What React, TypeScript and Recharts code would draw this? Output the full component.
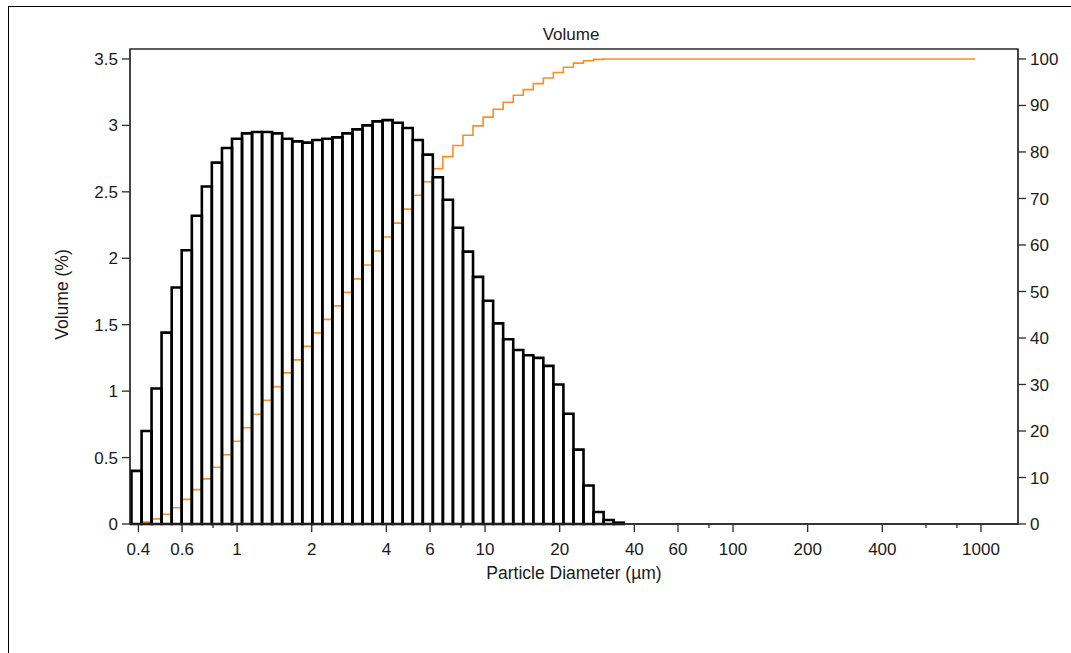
import React from 'react';
import { ComposedChart, Line, XAxis, YAxis, ReferenceArea } from 'recharts';

// Bin edges (µm) of the size channels shown
const EDGES = [0.375, 0.412, 0.452, 0.496, 0.545, 0.598, 0.657, 0.721, 0.791, 0.869, 0.954, 1.047, 1.149, 1.261, 1.385, 1.52, 1.669, 1.832, 2.011, 2.207, 2.423, 2.66, 2.92, 3.205, 3.519, 3.863, 4.24, 4.655, 5.11, 5.61, 6.158, 6.76, 7.421, 8.147, 8.943, 9.817, 10.78, 11.83, 12.99, 14.26, 15.65, 17.18, 18.86, 20.7, 22.73, 24.95, 27.39, 30.07, 33.01, 36.24];

// Volume % per bin (49 bins)
const VOLUME = [0.40, 0.70, 1.02, 1.44, 1.78, 2.06, 2.32, 2.54, 2.72, 2.83, 2.90, 2.94, 2.95, 2.95, 2.94, 2.90, 2.88, 2.87, 2.89, 2.90, 2.91, 2.94, 2.97, 3.00, 3.03, 3.04, 3.02, 2.98, 2.89, 2.78, 2.61, 2.44, 2.23, 2.05, 1.86, 1.68, 1.51, 1.39, 1.31, 1.27, 1.25, 1.19, 1.05, 0.83, 0.56, 0.29, 0.09, 0.03, 0.01];

// Cumulative volume % (undersize) at each bin edge
const CUM = [0, 0.4, 1.1, 2.1, 3.5, 5.3, 7.4, 9.7, 12.2, 14.9, 17.8, 20.7, 23.6, 26.6, 29.5, 32.5, 35.3, 38.2, 41.1, 44.0, 46.9, 49.8, 52.7, 55.7, 58.7, 61.7, 64.7, 67.7, 70.7, 73.6, 76.4, 79.0, 81.4, 83.6, 85.6, 87.5, 89.2, 90.7, 92.2, 93.4, 94.7, 95.9, 97.1, 98.2, 99.1, 99.6, 99.9, 100, 100, 100];
const CUM_END_X = 948.3;
const CUM_END = 100;

const X_DOMAIN = [0.37, 1410];
const Y_LEFT_DOMAIN = [0, 3.575];
const Y_RIGHT_DOMAIN = [0, 102.14];
const X_TICKS = [0.4, 0.6, 0.8, 1, 2, 4, 6, 8, 10, 20, 40, 60, 80, 100, 200, 400, 600, 800, 1000];
const X_LABELS = [0.4, 0.6, 1, 2, 4, 6, 10, 20, 40, 60, 100, 200, 400, 1000];
const Y_LEFT_TICKS = [0, 0.5, 1, 1.5, 2, 2.5, 3, 3.5];
const Y_RIGHT_TICKS = [0, 10, 20, 30, 40, 50, 60, 70, 80, 90, 100];

const FONT = '"Liberation Sans", Arial, sans-serif';
const TEXT = '#1a1a1a';
const AXIS = '#2a2a2a';
const ORANGE = '#ff8c1f';

const cumData = [
  ...EDGES.map((x, i) => ({ x, cum: CUM[i] })),
  { x: CUM_END_X, cum: CUM_END },
];

const XTick = (props: any) => {
  const { x, y, payload } = props;
  const v = payload.value;
  const major = X_LABELS.includes(v);
  return (
    <g>
      <line x1={x} x2={x} y1={y} y2={y + (major ? 8 : 4)} stroke={AXIS} strokeWidth={1.3} />
      {major && (
        <text x={x} y={y + 31} textAnchor="middle" fontSize={17} fill={TEXT} fontFamily={FONT}>
          {String(v)}
        </text>
      )}
    </g>
  );
};

const YLabel = (props: any) => {
  const vb = props.viewBox || {};
  const cx = vb.x + 62;
  const cy = vb.y + vb.height / 2 + 8;
  return (
    <text x={cx} y={cy} transform={`rotate(-90 ${cx} ${cy})`} textAnchor="middle" dominantBaseline="central" fontSize={17.5} fill={TEXT} fontFamily={FONT}>
      Volume (%)
    </text>
  );
};

const XLabel = (props: any) => {
  const vb = props.viewBox || {};
  const cx = vb.x + vb.width / 2;
  return (
    <text x={cx} y={vb.y + 55} textAnchor="middle" fontSize={17.5} fill={TEXT} fontFamily={FONT}>
      Particle Diameter (µm)
    </text>
  );
};

const TitleLabel = (props: any) => {
  const vb = props.viewBox || {};
  const cx = vb.x + vb.width / 2 - 3;
  return (
    <text x={cx} y={vb.y - 9} textAnchor="middle" fontSize={17} fill={TEXT} fontFamily={FONT}>
      Volume
    </text>
  );
};

export default function App() {
  return (
    <>
      <div
        style={{
          position: 'fixed',
          left: 8,
          top: 6,
          width: 1063,
          height: 647,
          borderLeft: '1px solid #000',
          borderTop: '1px solid #000',
          background: '#fff',
        }}
      />
      <div style={{ position: 'fixed', left: 0, top: 0 }}>
        <ComposedChart
          width={1071}
          height={653}
          data={cumData}
          margin={{ top: 49, right: 0, bottom: 89, left: 0 }}
        >
          <XAxis
            xAxisId="main"
            dataKey="x"
            type="number"
            scale="log"
            domain={X_DOMAIN}
            allowDataOverflow
            ticks={X_TICKS}
            interval={0}
            tick={(p: any) => <XTick {...p} />}
            tickLine={false}
            tickSize={0}
            tickMargin={0}
            height={40}
            axisLine={{ stroke: AXIS, strokeWidth: 1.3 }}
            label={<XLabel />}
          />
          <YAxis
            yAxisId="left"
            type="number"
            domain={Y_LEFT_DOMAIN}
            allowDataOverflow
            ticks={Y_LEFT_TICKS}
            interval={0}
            width={130}
            tickSize={8}
            tickMargin={4}
            tick={{ fontSize: 17, fill: TEXT, fontFamily: FONT }}
            tickLine={{ stroke: AXIS, strokeWidth: 1.3 }}
            axisLine={{ stroke: AXIS, strokeWidth: 1.3 }}
            label={<YLabel />}
          />
          <YAxis
            yAxisId="right"
            orientation="right"
            type="number"
            domain={Y_RIGHT_DOMAIN}
            allowDataOverflow
            ticks={Y_RIGHT_TICKS}
            interval={0}
            width={53}
            tickSize={8}
            tickMargin={4}
            tick={{ fontSize: 17, fill: TEXT, fontFamily: FONT, textAnchor: 'start' }}
            tickLine={{ stroke: AXIS, strokeWidth: 1.3 }}
            axisLine={{ stroke: AXIS, strokeWidth: 1.3 }}
          />
          <ReferenceArea
            xAxisId="main"
            yAxisId="left"
            x1={X_DOMAIN[0]}
            x2={X_DOMAIN[1]}
            y1={Y_LEFT_DOMAIN[0]}
            y2={Y_LEFT_DOMAIN[1]}
            fill="none"
            fillOpacity={0}
            stroke={AXIS}
            strokeWidth={1.3}
            ifOverflow="visible"
            label={<TitleLabel />}
          />
          <Line
            xAxisId="main"
            yAxisId="right"
            type="stepAfter"
            dataKey="cum"
            stroke={ORANGE}
            strokeWidth={1.6}
            dot={false}
            activeDot={false}
            isAnimationActive={false}
          />
          {VOLUME.map((v, i) => (
            <ReferenceArea
              key={i}
              xAxisId="main"
              yAxisId="left"
              x1={EDGES[i]}
              x2={EDGES[i + 1]}
              y1={0}
              y2={v}
              fill="none"
              fillOpacity={0}
              stroke="#000"
              strokeWidth={2.6}
              ifOverflow="visible"
              zIndex={450}
            />
          ))}
        </ComposedChart>
      </div>
    </>
  );
}
